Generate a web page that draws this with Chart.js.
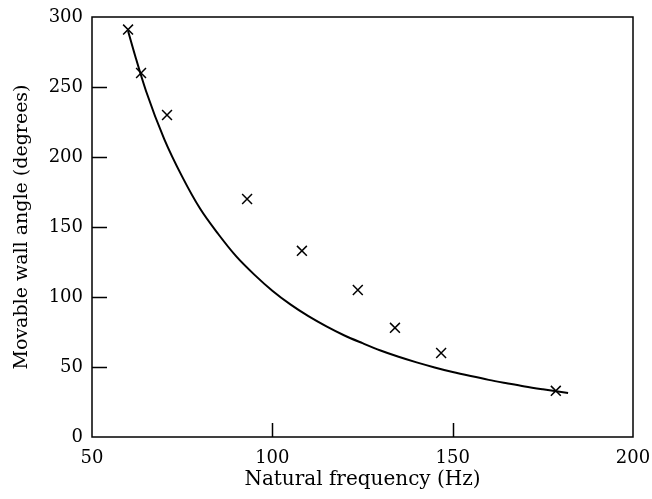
<!DOCTYPE html>
<html>
<head>
<meta charset="utf-8">
<script src="https://cdn.jsdelivr.net/npm/chart.js@4"></script>
<style>
  html, body { margin: 0; padding: 0; background: #fff; }
  #wrap { width: 652px; height: 499px; }
</style>
</head>
<body>
<div id="wrap"><canvas id="canvasWall"></canvas></div>
<script>
// Mesures (croix)
const freqMeasured = [60, 63.6, 70.8, 93, 108.2, 123.7, 134, 146.8, 178.6];
const angleMeasured = [291, 260, 230, 170, 133, 105, 78, 60, 33];

// Courbe théorique
const freqCurve = [60, 62, 65, 70, 75, 80, 85, 90, 95, 100, 105, 110, 115, 120, 125, 130, 135, 140, 145,
    150, 155, 160, 165, 170, 175, 182];
const angleCurve = [290, 272, 247, 213, 186, 163, 145, 129, 116, 104.5, 94.7, 86.3, 79, 72.5, 67, 61.8, 57.3, 53.3, 49.7,
    46.4, 43.5, 40.8, 38.4, 36.1, 34.1, 31.5];

const xTicks = [50, 100, 150, 200];
const yTicks = [0, 50, 100, 150, 200, 250, 300];

const serif = "'DejaVu Serif', 'Liberation Serif', serif";

const toPoints = (xs, ys) => xs.map((x, i) => ({ x: x, y: ys[i] }));

// Cadre + petites graduations vers l'intérieur
const framePlugin = {
    id: 'frame',
    afterDraw(chart) {
        const ctx = chart.ctx;
        const a = chart.chartArea;
        const sx = chart.scales.x;
        const sy = chart.scales.y;
        ctx.save();
        ctx.strokeStyle = '#000';
        ctx.lineWidth = 1.5;
        ctx.strokeRect(a.left, a.top, a.right - a.left, a.bottom - a.top);
        ctx.beginPath();
        yTicks.slice(1, -1).forEach(v => {
            const py = Math.round(sy.getPixelForValue(v)) + 0.5;
            ctx.moveTo(a.left, py);
            ctx.lineTo(a.left + 15, py);
        });
        xTicks.slice(1, -1).forEach(v => {
            const px = Math.round(sx.getPixelForValue(v)) + 0.5;
            ctx.moveTo(px, a.bottom);
            ctx.lineTo(px, a.bottom - 14);
        });
        ctx.stroke();
        ctx.restore();
    }
};

const chartWall = new Chart(document.getElementById('canvasWall'), {
    type: 'scatter',
    data: {
        datasets: [{
            label: 'Courbe',
            data: toPoints(freqCurve, angleCurve),
            showLine: true,
            borderColor: '#000',
            borderWidth: 2,
            pointRadius: 0,
            cubicInterpolationMode: 'monotone'
        }, {
            label: 'Mesures',
            data: toPoints(freqMeasured, angleMeasured),
            showLine: false,
            pointStyle: 'crossRot',
            pointRadius: 7,
            borderColor: '#000',
            borderWidth: 1.5
        }]
    },
    options: {
        responsive: true,
        maintainAspectRatio: false,
        animation: false,
        layout: { padding: { top: 17, right: 0, left: 0, bottom: 0 } },
        plugins: {
            legend: { display: false },
            tooltip: { enabled: false }
        },
        scales: {
            x: {
                type: 'linear',
                min: 50,
                max: 200,
                afterBuildTicks: s => { s.ticks = xTicks.map(v => ({ value: v })); },
                afterFit: s => { s.height = 62; s.paddingLeft = 0; s.paddingRight = 19; },
                grid: { display: false, tickLength: 0 },
                border: { display: false },
                ticks: { color: '#000', padding: 11, maxRotation: 0, font: { family: serif, size: 18 } },
                title: {
                    display: true,
                    text: 'Natural frequency (Hz)',
                    color: '#000',
                    padding: { top: 0, bottom: 7 },
                    font: { family: serif, size: 20 }
                }
            },
            y: {
                min: 0,
                max: 300,
                afterBuildTicks: s => { s.ticks = yTicks.map(v => ({ value: v })); },
                afterFit: s => { s.width = 92; s.paddingTop = 0; s.paddingBottom = 0; },
                grid: { display: false, tickLength: 0 },
                border: { display: false },
                ticks: { color: '#000', padding: 9, font: { family: serif, size: 18 } },
                title: {
                    display: true,
                    text: 'Movable wall angle (degrees)',
                    color: '#000',
                    padding: { top: 11, bottom: 0 },
                    font: { family: serif, size: 19 }
                }
            }
        }
    },
    plugins: [framePlugin]
});
</script>
</body>
</html>
